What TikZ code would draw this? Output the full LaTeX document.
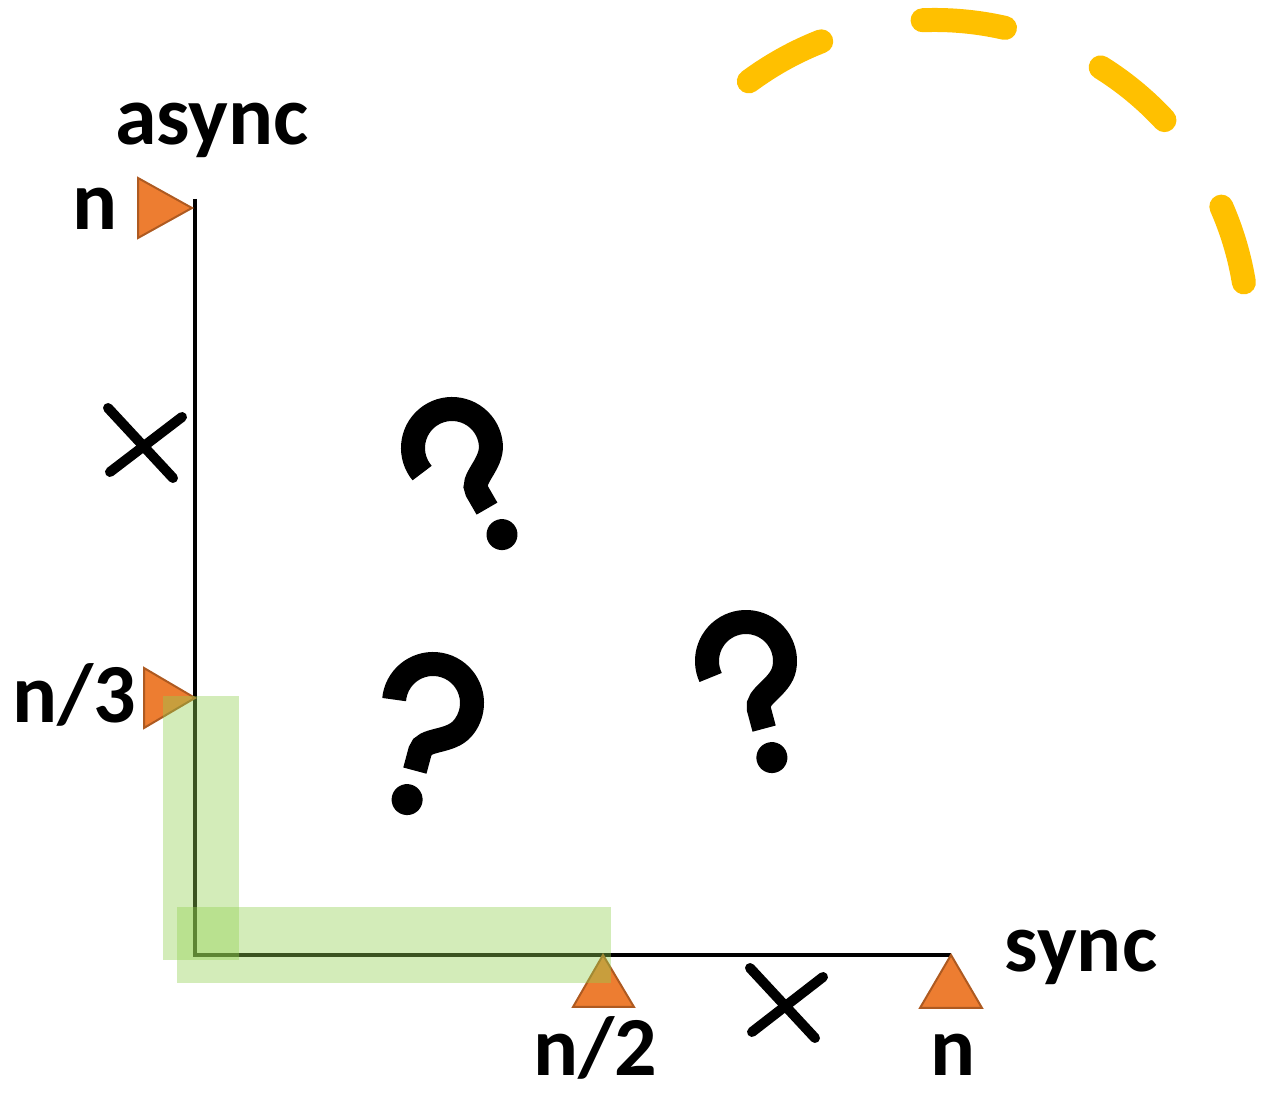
\documentclass[tikz,border=0pt]{standalone}
\usepackage{fontspec}
\setmainfont{Carlito}
\definecolor{orangeF}{HTML}{ED7D31}
\definecolor{orangeD}{HTML}{AE5A21}
\definecolor{hlgreen}{HTML}{92D050}
\definecolor{gold}{HTML}{FFC000}
\tikzset{
  qstroke/.style={line width=12pt, line cap=butt},
  qmark/.pic={
    \draw[qstroke] (190:39) arc[start angle=190, end angle=-25, radius=39]
      .. controls +(-115:20) and +(90:14) .. (0,-50) -- (0,-70);
    \fill (0,-100) circle[radius=15.5];
  }
}
\begin{document}
\begin{tikzpicture}[x=0.5pt,y=0.5pt,
  axis/.style={line width=2pt, black},
  tri/.style={fill=orangeF, draw=orangeD, line width=1pt},
  hl/.style={fill=hlgreen, fill opacity=0.4},
  cross/.style={line width=5pt, line cap=round},
  lbl/.style={font=\fontsize{42}{48}\selectfont\bfseries, inner sep=0pt, anchor=base},
  arcdash/.style={draw=gold, line width=12pt, line cap=round, dash pattern=on 41.5pt off 52pt},
]
\useasboundingbox (0,0) rectangle (1281,-1095);

% axes
\coordinate (ytop) at (195,-199);
\coordinate (O) at (195,-955);
\coordinate (xend) at (951,-955);
\draw[axis] (ytop) -- (O) -- (xend);

% markers
\draw[tri] (138,-178) -- (138,-238) -- (192,-208) -- cycle;
\draw[tri] (144,-668) -- (144,-728) -- (195,-698) -- cycle;
\draw[tri] (573,-1007) -- (634,-1007) -- (603,-955) -- cycle;
\draw[tri] (920,-1008) -- (982,-1008) -- (951,-955) -- cycle;

% highlighter
\fill[hl] (163,-696) rectangle (239,-960);
\fill[hl] (177,-907) rectangle (611,-983);

% crosses
\draw[cross] (108,-408) -- (173,-478);
\draw[cross] (182,-417) -- (110,-472);
\draw[cross] (750,-968) -- (815,-1038);
\draw[cross] (823,-977) -- (752,-1032);

% dashed arc
\coordinate (C) at (935,-333);
\draw[arcdash] ([shift={(126.5:313)}]C) arc[start angle=126.5, end angle=9.3, radius=313];

% question marks
\pic[rotate=30] at (452,-448) {qmark};
\pic[rotate=-15] at (433,-703) {qmark};
\pic[rotate=15] at (746,-661) {qmark};

% labels
\node[lbl] (async) at (212,-145) {async};
\node[lbl] (ntop) at (95,-230) {n};
\node[lbl] (nthird) at (74,-723) {n/3};
\node[lbl] (nhalf) at (595,-1076) {n/2};
\node[lbl] (nbot) at (953,-1076) {n};
\node[lbl] (sync) at (1081,-972) {sync};
\end{tikzpicture}
\end{document}
